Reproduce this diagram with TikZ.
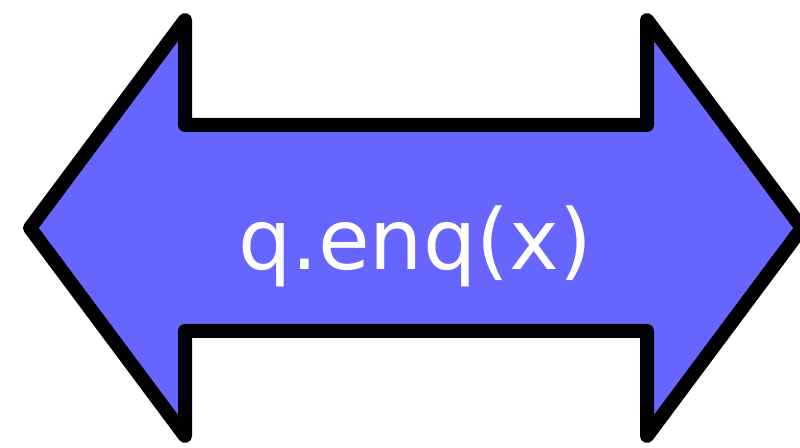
\documentclass[tikz,border=0pt]{standalone}
\usepackage{fontspec}
\setsansfont{DejaVu Sans}
\usetikzlibrary{positioning}
\definecolor{arrowblue}{HTML}{6666FF}
\tikzset{
  bigarrow/.style={draw=black, fill=arrowblue, line width=7pt, line join=round},
  arrowlabel/.style={text=white, font=\sffamily\fontsize{42}{46}\selectfont, inner sep=0pt}
}
\begin{document}
\begin{tikzpicture}[x=0.5pt, y=-0.5pt]
  \useasboundingbox (0,0) rectangle (800,448);
  % double arrow body
  \draw[bigarrow] (30,228) -- (185,20) -- (185,125) -- (647,125) -- (647,20)
    -- (802,228) -- (647,436) -- (647,331) -- (185,331) -- (185,436) -- cycle;
  \node[arrowlabel] (lbl) at (415,246) {q.enq(x)};
\end{tikzpicture}
\end{document}
